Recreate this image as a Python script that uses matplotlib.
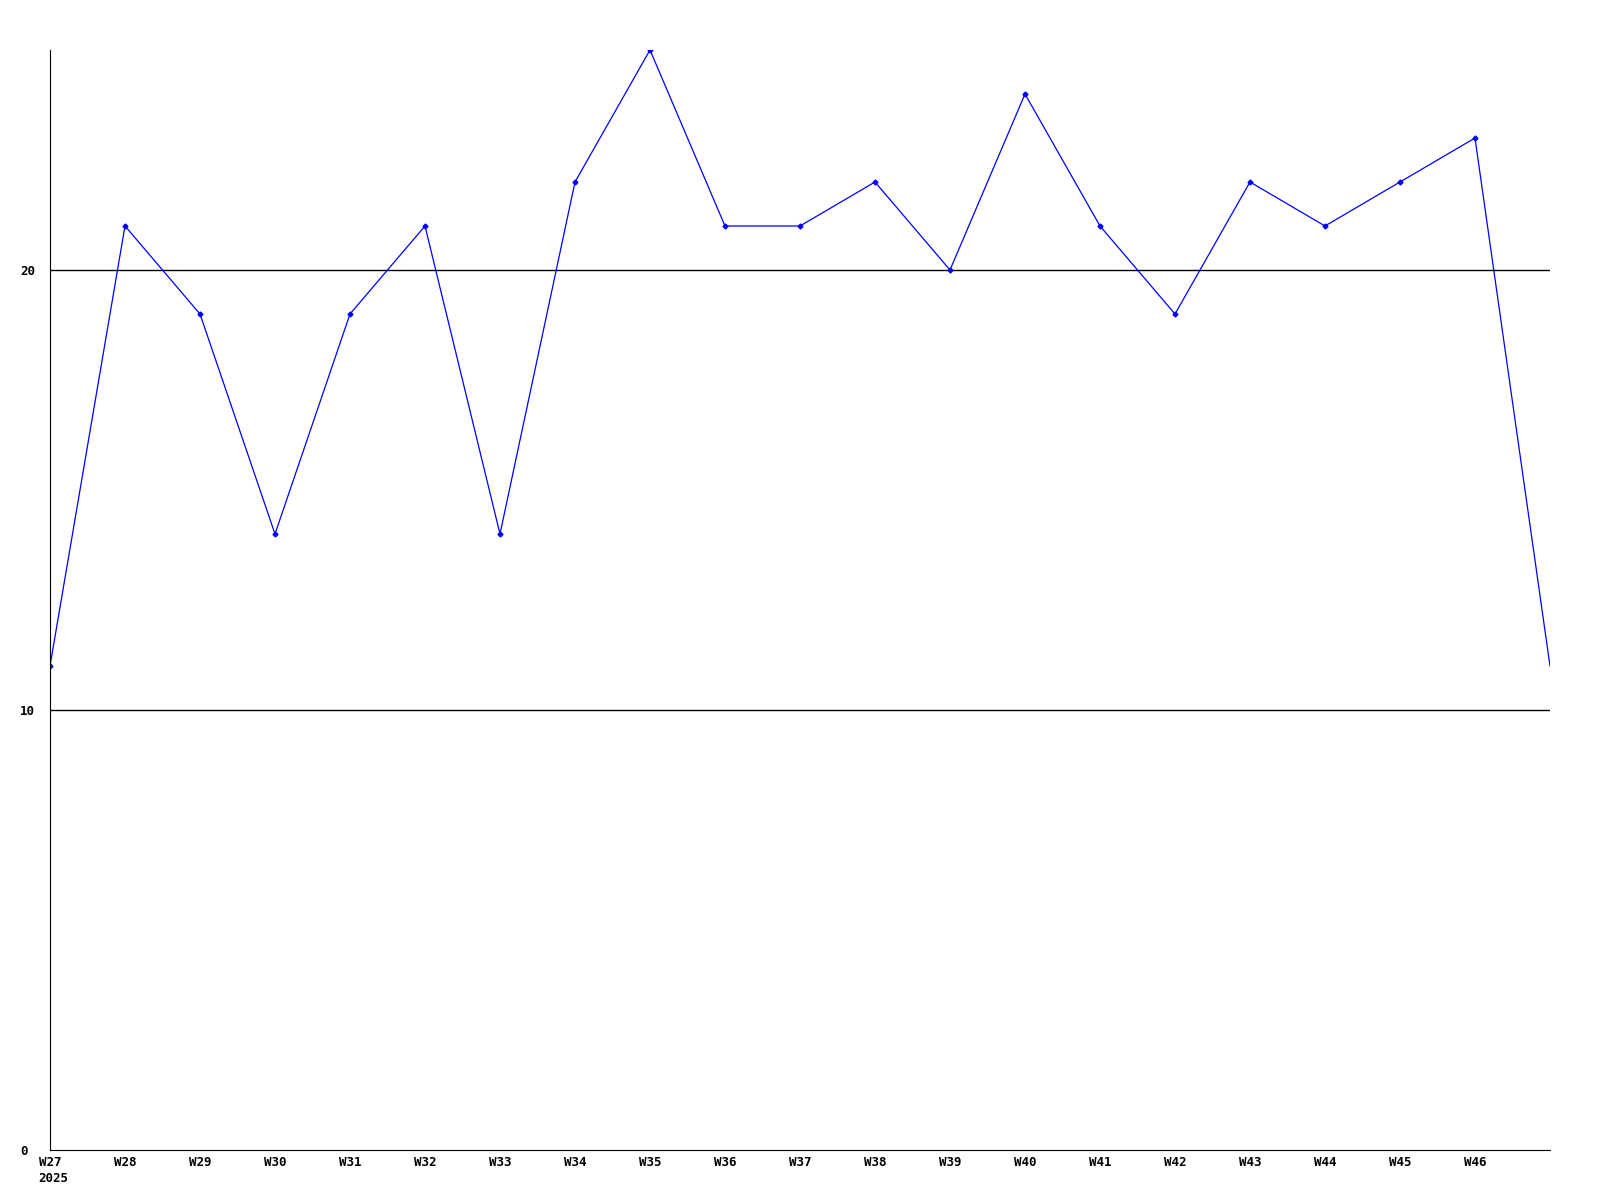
import matplotlib as mpl
mpl.use('Agg')
import matplotlib.pyplot as plt

weeks = ['W27', 'W28', 'W29', 'W30', 'W31', 'W32', 'W33', 'W34', 'W35', 'W36',
         'W37', 'W38', 'W39', 'W40', 'W41', 'W42', 'W43', 'W44', 'W45', 'W46', 'W47']
values = [11, 21, 19, 14, 19, 21, 14, 22, 25, 21,
          21, 22, 20, 24, 21, 19, 22, 21, 22, 23, 11]
year_label = '2025'

fig = plt.figure(figsize=(16, 12), dpi=100)
ax = fig.add_axes([50/1600, 50/1200, 1500/1600, 1100/1200])

x = list(range(len(weeks)))
ax.plot(x, values, color='#0000ff', linewidth=0.9, marker='D', markersize=2.5,
        markevery=list(range(len(weeks) - 1)))

for yv in [10, 20]:
    ax.axhline(yv, color='black', linewidth=1.0, zorder=0)

ax.set_xlim(0, len(weeks) - 1)
ax.set_ylim(0, 25)

ax.spines['top'].set_visible(False)
ax.spines['right'].set_visible(False)
ax.spines['left'].set_color('black')
ax.spines['bottom'].set_color('black')

font = dict(family='DejaVu Sans Mono', weight='bold', size=9)
ax.set_xticks(x[:-1])
ax.set_xticklabels(weeks[:-1], **font)
ax.set_yticks([0, 10, 20])
ax.set_yticklabels(['0', '10', '20'], ha='left', **font)
ax.tick_params(axis='x', length=0, pad=4)
ax.tick_params(axis='y', length=0, pad=21.5)

ax.annotate(year_label, xy=(0, 0), xycoords=('data', 'axes fraction'),
            xytext=(-8.5, -15.5), textcoords='offset points',
            ha='left', va='top', annotation_clip=False, **font)

fig.savefig('out.png', dpi=100)
